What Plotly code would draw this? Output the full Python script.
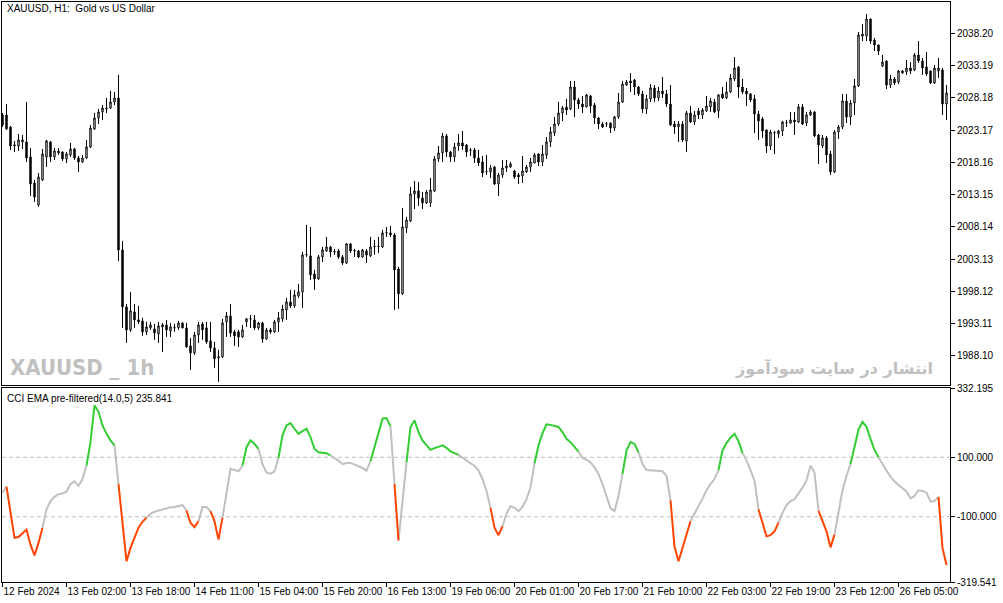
import plotly.graph_objects as go

# XAUUSD H1 candles, 12 Feb 2024 10:00 -> 26 Feb 2024 (237 bars)
open_ = [2025.52, 2025.52, 2023.65, 2020.70, 2020.70, 2021.33, 2021.33, 2019.00, 2014.96, 2011.54,
         2015.43, 2019.00, 2021.33, 2019.00, 2019.62, 2019.77, 2018.69, 2019.31, 2020.24, 2018.84,
         2018.22, 2018.84, 2020.55, 2023.34, 2025.05, 2025.98, 2026.45, 2026.60, 2027.53, 2028.16,
         2004.56, 1995.71, 1992.14, 1994.93, 1993.69, 1993.53, 1991.83, 1992.45, 1992.29, 1991.52,
         1992.60, 1992.91, 1991.98, 1992.45, 1992.45, 1993.22, 1992.45, 1989.65, 1988.57, 1991.36,
         1993.07, 1992.45, 1990.43, 1989.34, 1987.79, 1987.95, 1993.38, 1994.31, 1991.83, 1991.83,
         1991.05, 1993.38, 1993.84, 1993.69, 1992.45, 1993.22, 1990.74, 1992.14, 1991.83, 1993.38,
         1993.84, 1995.24, 1996.48, 1995.86, 1997.42, 1998.04, 2003.78, 2003.63, 2000.83, 2000.06,
         2003.47, 2004.40, 2005.02, 2004.25, 2004.40, 2003.47, 2002.54, 2005.49, 2004.40, 2004.40,
         2003.47, 2004.40, 2003.63, 2005.02, 2005.07, 2005.02, 2007.20, 2007.20, 2006.89, 2001.61,
         1997.73, 2007.97, 2009.06, 2013.25, 2013.72, 2012.63, 2011.85, 2011.85, 2013.72, 2018.69,
         2019.62, 2022.26, 2019.77, 2019.00, 2020.70, 2021.17, 2020.86, 2020.08, 2020.08, 2018.84,
         2018.22, 2016.67, 2016.67, 2017.44, 2014.80, 2016.20, 2017.29, 2017.44, 2016.82, 2016.20,
         2016.05, 2016.67, 2017.44, 2018.06, 2019.46, 2018.22, 2019.31, 2021.33, 2022.72, 2024.12,
         2025.83, 2026.76, 2026.45, 2029.86, 2027.85, 2027.22, 2026.76, 2028.47, 2027.07, 2025.05,
         2024.12, 2024.12, 2024.27, 2023.50, 2025.21, 2027.53, 2030.17, 2030.80, 2030.95, 2029.86,
         2028.78, 2026.45, 2028.00, 2029.71, 2028.16, 2029.24, 2028.78, 2027.22, 2024.12, 2023.65,
         2024.12, 2021.48, 2025.83, 2024.43, 2026.14, 2025.52, 2026.14, 2026.76, 2027.53, 2026.14,
         2028.78, 2028.16, 2029.09, 2031.11, 2032.97, 2029.86, 2029.24, 2028.78, 2028.00, 2025.67,
         2024.90, 2023.19, 2020.70, 2022.72, 2022.57, 2023.03, 2024.27, 2024.27, 2024.74, 2024.43,
         2026.76, 2024.27, 2025.52, 2025.98, 2022.41, 2020.70, 2021.95, 2019.46, 2016.67, 2022.88,
         2023.65, 2027.69, 2025.21, 2027.38, 2030.02, 2037.78, 2037.78, 2040.42, 2037.16, 2036.38,
         2033.12, 2033.90, 2030.17, 2031.11, 2030.64, 2032.04, 2032.19, 2032.81, 2032.50, 2034.83,
         2033.90, 2032.97, 2032.35, 2030.49, 2032.35, 2032.50, 2027.22]

high = [2025.83, 2027.22, 2023.81, 2021.48, 2022.57, 2022.41, 2027.53, 2020.39, 2015.43, 2016.51,
        2020.24, 2021.64, 2021.48, 2020.39, 2020.39, 2019.85, 2019.77, 2021.17, 2020.39, 2019.15,
        2019.31, 2021.64, 2023.96, 2025.83, 2026.45, 2027.07, 2028.16, 2029.24, 2029.09, 2031.73,
        2005.96, 1996.17, 1998.04, 1996.17, 1995.86, 1994.00, 1993.38, 1993.38, 1993.07, 1993.38,
        1993.22, 1993.69, 1993.22, 1993.07, 1993.53, 1993.30, 1993.22, 1990.90, 1991.83, 1993.38,
        1993.38, 1993.38, 1993.38, 1990.28, 1989.03, 1993.84, 1994.93, 1996.17, 1992.14, 1992.14,
        1992.91, 1994.00, 1994.46, 1994.46, 1993.38, 1993.38, 1992.45, 1992.45, 1993.69, 1994.93,
        1996.02, 1997.11, 1998.35, 1998.35, 1999.28, 2004.25, 2008.44, 2008.13, 2001.45, 2003.78,
        2005.02, 2006.58, 2005.18, 2004.71, 2004.71, 2003.78, 2005.64, 2005.64, 2004.71, 2004.56,
        2004.71, 2004.71, 2006.58, 2006.11, 2006.58, 2007.66, 2008.13, 2008.28, 2007.20, 2001.92,
        2011.08, 2009.68, 2014.34, 2015.27, 2015.11, 2013.56, 2013.87, 2015.74, 2019.15, 2020.70,
        2022.72, 2022.57, 2019.93, 2021.17, 2022.57, 2023.03, 2021.01, 2020.39, 2020.39, 2020.08,
        2019.15, 2019.31, 2017.75, 2017.60, 2016.51, 2018.53, 2018.53, 2018.22, 2016.98, 2016.51,
        2019.15, 2017.75, 2018.84, 2019.62, 2019.55, 2020.86, 2022.10, 2023.65, 2025.21, 2027.53,
        2026.91, 2028.00, 2030.80, 2030.80, 2028.16, 2028.47, 2028.78, 2028.62, 2027.38, 2025.21,
        2024.43, 2024.43, 2024.35, 2025.36, 2028.93, 2030.80, 2030.95, 2032.04, 2031.11, 2030.02,
        2029.24, 2028.62, 2030.33, 2030.17, 2029.86, 2031.42, 2029.40, 2030.17, 2024.59, 2024.59,
        2024.59, 2026.14, 2026.91, 2026.14, 2026.60, 2026.60, 2028.47, 2028.16, 2028.00, 2028.78,
        2029.86, 2030.64, 2031.88, 2034.52, 2033.10, 2031.11, 2029.71, 2028.93, 2028.62, 2026.14,
        2025.21, 2023.25, 2023.19, 2023.03, 2023.19, 2024.59, 2024.74, 2025.98, 2025.98, 2027.22,
        2027.22, 2025.98, 2026.29, 2026.14, 2022.57, 2022.41, 2022.26, 2019.93, 2023.19, 2023.96,
        2028.78, 2028.78, 2027.85, 2031.11, 2038.40, 2039.64, 2041.20, 2040.50, 2037.47, 2036.45,
        2034.83, 2034.00, 2031.73, 2031.42, 2032.50, 2032.50, 2034.05, 2033.74, 2035.14, 2037.00,
        2034.37, 2035.30, 2032.40, 2033.28, 2034.37, 2032.81, 2030.17]

low = [2023.65, 2023.19, 2020.08, 2019.77, 2019.93, 2020.24, 2018.22, 2012.94, 2012.01, 2011.23,
       2015.27, 2017.44, 2018.22, 2018.53, 2019.31, 2018.38, 2018.06, 2019.00, 2018.53, 2016.67,
       2018.10, 2018.70, 2020.39, 2023.19, 2024.12, 2024.74, 2025.83, 2026.45, 2027.07, 2002.85,
       1992.45, 1990.12, 1991.83, 1992.45, 1993.07, 1991.21, 1991.36, 1992.14, 1990.59, 1990.12,
       1988.72, 1991.05, 1991.05, 1991.83, 1992.14, 1992.40, 1989.34, 1985.93, 1988.26, 1990.12,
       1990.59, 1989.97, 1988.72, 1986.24, 1984.06, 1987.79, 1991.05, 1991.05, 1989.65, 1989.50,
       1990.90, 1992.60, 1992.45, 1992.14, 1992.14, 1990.12, 1990.59, 1991.52, 1991.67, 1991.83,
       1993.38, 1993.69, 1995.55, 1995.55, 1997.11, 1995.55, 2003.47, 1999.90, 1998.35, 1999.90,
       2002.69, 2004.25, 2003.47, 2003.78, 2003.16, 2002.23, 2002.38, 2004.09, 2003.47, 2003.32,
       2003.32, 2002.54, 2003.47, 2003.78, 2004.09, 2004.87, 2006.58, 2006.58, 1995.24, 1995.40,
       1997.57, 2007.20, 2008.91, 2010.92, 2011.39, 2010.92, 2011.70, 2011.23, 2013.56, 2018.22,
       2018.22, 2019.00, 2018.22, 2018.22, 2019.93, 2020.08, 2019.00, 2019.15, 2018.06, 2017.60,
       2015.89, 2016.20, 2015.74, 2014.65, 2012.94, 2015.74, 2016.67, 2017.29, 2015.58, 2014.80,
       2014.96, 2016.51, 2016.67, 2018.00, 2017.60, 2017.60, 2018.69, 2020.55, 2022.26, 2023.81,
       2024.58, 2025.52, 2026.29, 2025.21, 2026.45, 2025.83, 2026.70, 2025.83, 2024.12, 2023.34,
       2023.50, 2023.65, 2022.72, 2023.03, 2024.90, 2027.38, 2030.02, 2029.09, 2028.62, 2028.47,
       2025.83, 2025.67, 2027.53, 2027.53, 2027.69, 2028.16, 2026.76, 2023.81, 2022.57, 2021.33,
       2021.33, 2019.77, 2024.27, 2023.96, 2024.90, 2024.90, 2025.98, 2025.98, 2025.83, 2025.05,
       2028.00, 2028.00, 2028.93, 2030.80, 2028.16, 2028.78, 2026.91, 2027.53, 2022.72, 2021.64,
       2021.95, 2019.62, 2020.08, 2019.46, 2021.95, 2022.26, 2023.65, 2024.12, 2022.41, 2024.27,
       2023.96, 2023.81, 2025.36, 2022.10, 2017.91, 2020.39, 2018.06, 2016.20, 2016.51, 2021.79,
       2023.34, 2024.27, 2023.96, 2025.52, 2029.86, 2037.00, 2037.00, 2036.54, 2035.45, 2034.83,
       2032.97, 2029.55, 2029.71, 2030.17, 2030.33, 2031.88, 2031.73, 2031.88, 2032.35, 2033.59,
       2031.73, 2031.57, 2030.33, 2030.33, 2031.26, 2025.52, 2024.74]

close = [2023.96, 2023.34, 2020.70, 2020.86, 2021.64, 2021.64, 2018.84, 2014.80, 2012.79, 2015.89,
         2019.46, 2021.48, 2019.00, 2019.93, 2019.93, 2018.69, 2019.46, 2020.24, 2018.84, 2018.22,
         2018.84, 2020.55, 2023.50, 2025.05, 2025.98, 2026.60, 2026.60, 2027.53, 2028.16, 2004.56,
         1995.71, 1992.14, 1995.09, 1993.69, 1993.38, 1991.83, 1992.60, 1992.91, 1991.67, 1992.76,
         1992.91, 1992.14, 1992.60, 1992.50, 1993.22, 1992.45, 1989.50, 1988.57, 1991.36, 1992.91,
         1992.14, 1990.28, 1989.34, 1987.64, 1987.95, 1993.22, 1994.31, 1991.67, 1991.21, 1991.05,
         1992.14, 1993.84, 1993.88, 1992.45, 1993.22, 1990.74, 1992.14, 1991.83, 1993.38, 1994.00,
         1995.40, 1996.48, 1995.86, 1997.57, 1998.04, 2003.78, 2003.85, 2000.68, 2000.06, 2003.47,
         2004.56, 2005.02, 2004.25, 2004.30, 2003.47, 2002.54, 2005.49, 2004.40, 2004.45, 2003.47,
         2004.56, 2003.78, 2005.02, 2005.07, 2005.10, 2007.20, 2007.25, 2006.89, 2001.45, 1997.73,
         2008.13, 2009.22, 2013.25, 2013.72, 2012.63, 2011.85, 2013.56, 2013.87, 2018.69, 2019.62,
         2022.26, 2019.77, 2019.00, 2020.55, 2021.17, 2020.70, 2019.77, 2020.05, 2018.84, 2018.06,
         2016.51, 2016.70, 2017.29, 2014.80, 2016.20, 2017.29, 2017.60, 2017.91, 2015.89, 2015.89,
         2016.82, 2017.44, 2018.22, 2019.31, 2018.22, 2019.46, 2021.33, 2022.88, 2024.12, 2025.83,
         2026.60, 2026.29, 2029.86, 2027.85, 2027.22, 2026.76, 2028.62, 2026.91, 2025.05, 2024.12,
         2023.65, 2024.15, 2023.50, 2025.21, 2027.53, 2030.33, 2030.64, 2030.49, 2029.86, 2028.78,
         2026.45, 2028.00, 2029.71, 2028.16, 2029.24, 2028.78, 2027.22, 2023.96, 2023.65, 2024.12,
         2021.64, 2025.83, 2024.43, 2025.52, 2025.52, 2026.29, 2026.91, 2027.69, 2025.98, 2028.62,
         2028.16, 2029.09, 2031.26, 2032.81, 2029.86, 2029.09, 2028.78, 2027.85, 2025.67, 2024.59,
         2023.03, 2020.70, 2022.88, 2022.76, 2023.03, 2024.43, 2024.30, 2024.74, 2024.43, 2026.76,
         2024.12, 2025.52, 2025.98, 2022.26, 2020.86, 2021.95, 2019.31, 2016.67, 2022.88, 2023.65,
         2027.69, 2025.21, 2027.38, 2030.02, 2037.94, 2038.09, 2040.42, 2037.00, 2036.38, 2035.45,
         2033.74, 2030.17, 2031.11, 2030.49, 2032.35, 2032.35, 2032.81, 2032.35, 2034.83, 2033.90,
         2032.81, 2031.88, 2030.49, 2032.81, 2032.81, 2027.22, 2028.93]

# CCI EMA pre-filtered(14.0,5) value on each bar
cci = [-19, 1, -92, -171, -168, -157, -143, -194, -230, -188,
       -137, -75, -47, -33, -24, -22, -15, 10, 19, 4,
       27, 72, 151, 275, 253, 207, 179, 157, 140, 10,
       -115, -250, -205, -169, -137, -117, -103, -90, -83, -79,
       -75, -72, -68, -67, -65, -61, -79, -120, -135, -115,
       -67, -67, -81, -115, -177, -103, -13, 61, 57, 53,
       72, 134, 157, 145, 128, 77, 49, 44, 53, 98,
       174, 207, 215, 196, 179, 188, 196, 168, 128, 117,
       115, 114, 106, 98, 89, 77, 81, 81, 75, 70,
       64, 55, 87, 134, 174, 230, 232, 204, 10, -180,
       -47, 83, 202, 224, 185, 157, 140, 125, 131, 136,
       140, 132, 120, 114, 108, 98, 89, 80, 71, 55,
       27, -13, -70, -137, -162, -132, -90, -64, -70, -81,
       -67, -41, -2, 80, 140, 181, 211, 209, 206, 202,
       185, 162, 151, 134, 119, 98, 91, 83, 66, 44,
       10, -30, -72, -81, -30, 44, 123, 151, 145, 117,
       77, 57, 56, 55, 55, 53, 38, -45, -200, -250,
       -205, -154, -115, -87, -64, -39, -11, 10, 27, 57,
       123, 148, 166, 179, 154, 115, 89, 57, 21, -75,
       -124, -166, -162, -149, -120, -87, -61, -47, -41, -21,
       -2, 23, 72, 49, -80, -117, -149, -203, -160, -90,
       -11, 38, 77, 134, 193, 219, 202, 162, 125, 100,
       75, 55, 35, 19, 7, -4, -15, -38, -30, -11,
       -13, -19, -49, -47, -33, -205, -262]

# colour state of the line segment ending on each bar: n = neutral, r = down, g = up
cci_state_runs = [("n", 2), ("r", 9), ("n", 11), ("g", 7), ("n", 1), ("r", 7), ("n", 10),
                  ("r", 3), ("n", 3), ("r", 3), ("n", 5), ("g", 4), ("n", 5), ("g", 13),
                  ("n", 10), ("g", 5), ("n", 1), ("r", 1), ("n", 2), ("g", 13), ("n", 8),
                  ("r", 3), ("n", 8), ("g", 11), ("n", 11), ("g", 4), ("n", 8), ("r", 5),
                  ("n", 7), ("g", 6), ("n", 4), ("r", 5), ("n", 10), ("r", 4), ("n", 4),
                  ("g", 7), ("n", 15), ("r", 2)]

time_ticks = [0, 16, 32, 48, 64, 80, 96, 112, 128, 144, 160, 176, 192, 208, 224]
time_labels = ["12 Feb 2024", "13 Feb 02:00", "13 Feb 18:00", "14 Feb 11:00", "15 Feb 04:00",
               "15 Feb 20:00", "16 Feb 13:00", "19 Feb 06:00", "20 Feb 01:00", "20 Feb 17:00",
               "21 Feb 10:00", "22 Feb 03:00", "22 Feb 19:00", "23 Feb 12:00", "26 Feb 05:00"]

price_ticks = [2038.20, 2033.19, 2028.18, 2023.17, 2018.16, 2013.15, 2008.14, 2003.13,
               1998.12, 1993.11, 1988.10]
cci_ticks = [332.195, 100.0, -100.0, -319.541]

bars = list(range(len(close)))

fig = go.Figure()

fig.add_trace(go.Candlestick(
    x=bars, open=open_, high=high, low=low, close=close,
    increasing=dict(line=dict(color="black", width=1), fillcolor="white"),
    decreasing=dict(line=dict(color="black", width=1), fillcolor="black"),
    whiskerwidth=0, hoverinfo="skip", showlegend=False,
    xaxis="x", yaxis="y"))

# expand the colour runs to one state per bar
state = []
for s, n in cci_state_runs:
    state += [s] * n

colours = {"n": "#C0C0C0", "r": "#FF4500", "g": "#32CD32"}
for key in ["n", "r", "g"]:
    xs, ys = [], []
    for i in range(1, len(cci)):
        if state[i] != key:
            continue
        if xs and xs[-1] == i - 1:
            xs.append(i)
            ys.append(cci[i])
        else:
            if xs:
                xs.append(None)
                ys.append(None)
            xs += [i - 1, i]
            ys += [cci[i - 1], cci[i]]
    fig.add_trace(go.Scatter(x=xs, y=ys, mode="lines",
                             line=dict(color=colours[key], width=2),
                             hoverinfo="skip", showlegend=False,
                             xaxis="x2", yaxis="y2"))

# levels +100 / -100
for lvl in [100, -100]:
    fig.add_shape(type="line", xref="x2 domain", yref="y2", x0=0, x1=1, y0=lvl, y1=lvl,
                  line=dict(color="#C0C0C0", width=1, dash="4px,3px"), layer="below")

axis_font = dict(family="Liberation Sans, Arial, sans-serif", size=10, color="black")
frame = dict(showline=True, mirror=True, linecolor="black", linewidth=1,
             showgrid=False, zeroline=False, automargin=False)
x_range = [-0.125, 236.875]

fig.update_layout(
    width=1003, height=603,
    margin=dict(l=2, r=53, t=2, b=21, autoexpand=False),
    paper_bgcolor="white", plot_bgcolor="white",
    showlegend=False,
    boxgap=0.5,
    font=axis_font,
    xaxis=dict(domain=[0, 1], anchor="y", range=x_range, showticklabels=False, ticks="",
               rangeslider=dict(visible=False), **frame),
    yaxis=dict(domain=[0.339, 1], anchor="x", side="right", range=[1983.52, 2043.06],
               tickvals=price_ticks, ticktext=[f"{v:.2f}" for v in price_ticks],
               ticks="outside", ticklen=4, tickcolor="black", tickfont=axis_font, **frame),
    xaxis2=dict(domain=[0, 1], anchor="y2", range=x_range,
                tickvals=time_ticks, ticktext=time_labels, ticks="outside", ticklen=4,
                tickcolor="black", ticklabelposition="outside right", tickangle=0,
                tickfont=axis_font, **frame),
    yaxis2=dict(domain=[0, 0.334], anchor="x2", side="right", range=[-319.541, 332.195],
                tickvals=cci_ticks, ticktext=[f"{v:.3f}" for v in cci_ticks],
                ticks="outside", ticklen=4, tickcolor="black", tickfont=axis_font, **frame),
)

fig.add_annotation(text="XAUUSD, H1:\u00a0 Gold vs US Dollar", xref="paper", yref="paper",
                   x=0.0032, y=0.988, xanchor="left", yanchor="middle", showarrow=False,
                   font=axis_font)
fig.add_annotation(text="CCI EMA pre-filtered(14.0,5) 235.841", xref="paper", yref="paper",
                   x=0.0032, y=0.317, xanchor="left", yanchor="middle", showarrow=False,
                   font=axis_font)
fig.add_annotation(text="<b>XAUUSD _ 1h</b>", xref="paper", yref="paper",
                   x=0.0063, y=0.369, xanchor="left", yanchor="middle", showarrow=False,
                   font=dict(family="Liberation Sans Narrow, DejaVu Sans Condensed, Liberation Sans",
                             size=22, color="#C0C0C0"))
fig.add_annotation(text="<b>انتشار در سایت سودآموز</b>", xref="paper", yref="paper",
                   x=0.984, y=0.369, xanchor="right", yanchor="middle", showarrow=False,
                   font=dict(family="DejaVu Sans", size=16, color="#C0C0C0"))

# the page body has a default 8px margin; drop it so the figure sits at the window corner
fig.write_html("out.html", config={"displayModeBar": False},
               post_script="document.body.style.margin = '0';")
